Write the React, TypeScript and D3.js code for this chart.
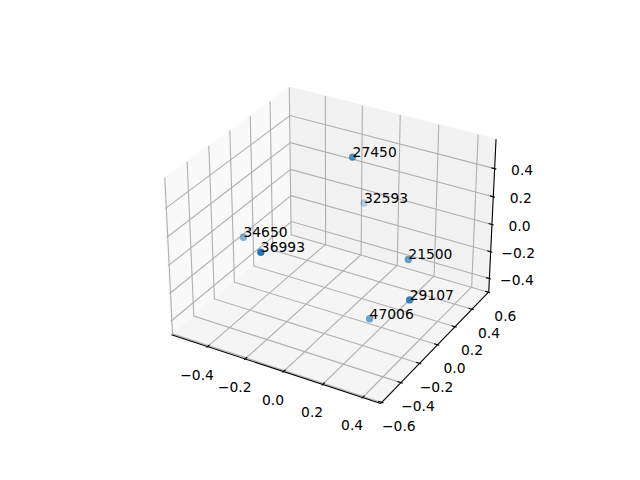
import * as d3 from "d3"

const labels = ["27450", "32593", "34650", "36993", "21500", "29107", "47006"]
const xValues = [-0.01, -0.169, -0.487, -0.142, 0.268, 0.419, 0.165]
const yValues = [0.112, 0.568, -0.089, -0.543, 0.141, -0.169, -0.0545]
const zValues = [0.568, -0.073, -0.066, 0.238, -0.0635, -0.0954, -0.4156]

const xLim = [-0.574, 0.468]
const yLim = [-0.586, 0.58]
const zLim = [-0.478, 0.583]
const xTicks = [-0.4, -0.2, 0, 0.2, 0.4]
const yTicks = [-0.6, -0.4, -0.2, 0, 0.2, 0.4, 0.6]
const zTicks = [-0.4, -0.2, 0, 0.2, 0.4]

const width = 640
const height = 480
const dist = 10
const pxPerUnit = 1916
const cx = 333
const cy = 237.5
const box = [1.202, 1.1705, 0.8929]

// same camera as a default mplot3d view: elev 30, azim -60
const elev = (30 * Math.PI) / 180
const azim = (-60 * Math.PI) / 180
const w = [Math.cos(elev) * Math.cos(azim), Math.cos(elev) * Math.sin(azim), Math.sin(elev)]
const uLen = Math.hypot(w[0], w[1])
const u = [-w[1] / uLen, w[0] / uLen, 0]
const v = [
    w[1] * u[2] - w[2] * u[1],
    w[2] * u[0] - w[0] * u[2],
    w[0] * u[1] - w[1] * u[0],
]

const toBox = [
    d3.scaleLinear().domain(xLim).range([-box[0] / 2, box[0] / 2]),
    d3.scaleLinear().domain(yLim).range([-box[1] / 2, box[1] / 2]),
    d3.scaleLinear().domain(zLim).range([-box[2] / 2, box[2] / 2]),
]

const dot = (a: number[], b: number[]) => a[0] * b[0] + a[1] * b[1] + a[2] * b[2]

function depth(p: number[]) {
    return dot(w, [toBox[0](p[0]), toBox[1](p[1]), toBox[2](p[2])])
}

function project(p: number[]): [number, number] {
    const q = [toBox[0](p[0]), toBox[1](p[1]), toBox[2](p[2])]
    const d = dist - dot(w, q)
    return [cx + (dot(u, q) / d) * pxPerUnit, cy - (dot(v, q) / d) * pxPerUnit]
}

// panes sit a little outside the limits
const pad = (lim: number[]) => (lim[1] - lim[0]) / 48
const x0 = xLim[0] - pad(xLim)
const x1 = xLim[1] + pad(xLim)
const y0 = yLim[0] - pad(yLim)
const y1 = yLim[1] + pad(yLim)
const z0 = zLim[0] - pad(zLim)
const z1 = zLim[1] + pad(zLim)

const dx = (xLim[1] - xLim[0]) / 12
const dy = (yLim[1] - yLim[0]) / 12

const line3d = (pts: number[][]) => d3.line()(pts.map(project)) as string
const closed3d = (pts: number[][]) => `${line3d(pts)}Z`

const panes = [
    { fill: "#f9f9f9", pts: [[x0, y0, z0], [x0, y1, z0], [x0, y1, z1], [x0, y0, z1]] },
    { fill: "#f2f2f2", pts: [[x0, y1, z0], [x1, y1, z0], [x1, y1, z1], [x0, y1, z1]] },
    { fill: "#f5f5f5", pts: [[x0, y0, z0], [x1, y0, z0], [x1, y1, z0], [x0, y1, z0]] },
]

const fmt = (t: number) => t.toFixed(1).replace("-", "\u2212")

const points = labels
    .map((label, i) => ({ label, p: [xValues[i], yValues[i], zValues[i]] }))
    .sort((a, b) => depth(a.p) - depth(b.p))

const alpha = d3
    .scaleLinear()
    .domain(d3.extent(points, (d) => depth(d.p)) as [number, number])
    .range([0.3, 1])

export default function App() {
    const fontFamily = "'DejaVu Sans'"
    const gridColor = "#b0b0b0"
    const lw = 1.11

    return (
        <svg
            width={width}
            height={height}
            viewBox={`0 0 ${width} ${height}`}
            style={{ position: "fixed", left: 0, top: 0, background: "#fff" }}
            fontFamily={fontFamily}
            fontSize={13.89}
        >
            {/* Panes */}
            {panes.map((d, i) => (
                <path key={i} d={closed3d(d.pts)} fill={d.fill} stroke={d.fill} strokeWidth={lw} />
            ))}

            {/* Grid */}
            <g fill="none" stroke={gridColor} strokeWidth={lw}>
                {xTicks.map((t) => (
                    <path key={`gx${t}`} d={line3d([[t, y0, z0], [t, y1, z0], [t, y1, z1]])} />
                ))}
                {yTicks.map((t) => (
                    <path key={`gy${t}`} d={line3d([[x1, t, z0], [x0, t, z0], [x0, t, z1]])} />
                ))}
                {zTicks.map((t) => (
                    <path key={`gz${t}`} d={line3d([[x0, y0, t], [x0, y1, t], [x1, y1, t]])} />
                ))}
            </g>

            {/* Axis lines */}
            <g fill="none" stroke="#000" strokeWidth={lw}>
                <path d={line3d([[x0, y0, z0], [x1, y0, z0]])} />
                <path d={line3d([[x1, y0, z0], [x1, y1, z0]])} />
                <path d={line3d([[x1, y1, z0], [x1, y1, z1]])} />
                {xTicks.map((t) => (
                    <path key={`tx${t}`} d={line3d([[t, y0 - 0.1 * dy, z0], [t, y0 + 0.2 * dy, z0]])} />
                ))}
                {yTicks.map((t) => (
                    <path key={`ty${t}`} d={line3d([[x1 + 0.1 * dx, t, z0], [x1 - 0.2 * dx, t, z0]])} />
                ))}
                {zTicks.map((t) => (
                    <path key={`tz${t}`} d={line3d([[x1 + 0.1 * dx, y1, t], [x1 - 0.2 * dx, y1, t]])} />
                ))}
            </g>

            {/* Tick labels */}
            <g textAnchor="middle" fill="#000">
                {xTicks.map((t) => {
                    const [px, py] = project([t, y0, z0])
                    return (
                        <text key={`lx${t}`} x={px - 10.5} y={py + 33}>
                            {fmt(t)}
                        </text>
                    )
                })}
                {yTicks.map((t) => {
                    const [px, py] = project([x1, t, z0])
                    return (
                        <text key={`ly${t}`} x={px + 17} y={py + 28.5}>
                            {fmt(t)}
                        </text>
                    )
                })}
                {zTicks.map((t) => {
                    const [px, py] = project([x1, y1, t])
                    return (
                        <text key={`lz${t}`} x={px + 27.5} y={py + 6}>
                            {fmt(t)}
                        </text>
                    )
                })}
            </g>

            {/* Points */}
            {points.map((d) => {
                const [px, py] = project(d.p)
                return (
                    <circle
                        key={d.label}
                        cx={px}
                        cy={py}
                        r={3.7}
                        fill="#1f77b4"
                        fillOpacity={alpha(depth(d.p))}
                    />
                )
            })}
            {points.map((d) => {
                const [px, py] = project(d.p)
                return (
                    <text key={`t${d.label}`} x={px} y={py} fill="#000">
                        {d.label}
                    </text>
                )
            })}
        </svg>
    )
}
